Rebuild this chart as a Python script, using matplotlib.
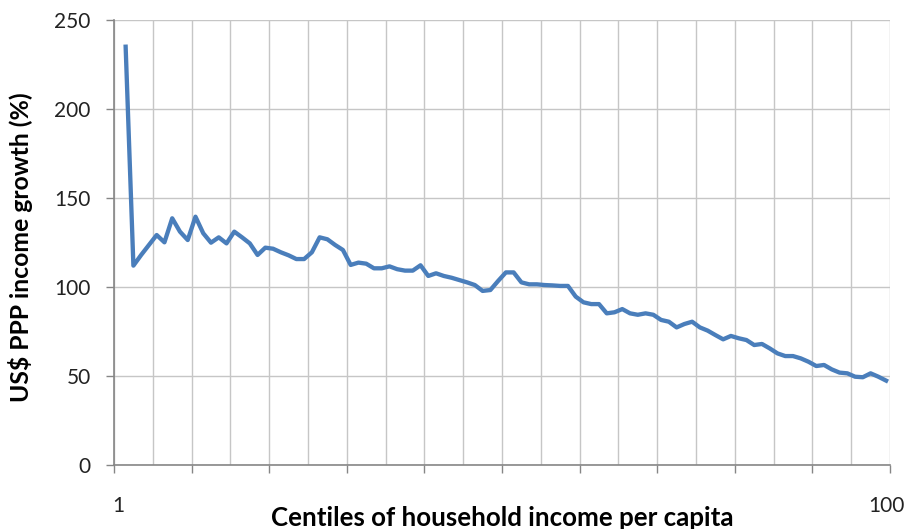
import numpy as np
import matplotlib
matplotlib.use('Agg')
import matplotlib.pyplot as plt
import matplotlib.transforms as mtransforms

# centiles 2..100 (centile 1 is blank in the source chart)
centiles = list(range(2, 101))
growth = [235, 112, 118, 123.6, 129.2, 125.1, 138.6, 131.1, 126.4, 139.5,
          130.2, 124.9, 127.9, 124.5, 131.1, 127.9, 124.5, 118, 122.1, 121.5,
          119.5, 117.8, 115.7, 115.7, 119.5, 127.9, 126.8, 123.6, 120.8, 112.4,
          113.7, 113.1, 110.5, 110.5, 111.6, 110, 109.2, 109.2, 112.2, 106.2,
          107.7, 106.2, 105.2, 103.9, 102.6, 101.1, 97.8, 98.3, 103.4, 108.2,
          108.2, 102.6, 101.5, 101.5, 101.1, 100.9, 100.6, 100.6, 94.6, 91.4,
          90.4, 90.4, 85.2, 85.8, 87.6, 85.2, 84.4, 85.2, 84.4, 81.5,
          80.5, 77.3, 79.2, 80.5, 77.3, 75.5, 73.0, 70.6, 72.5, 71.2,
          70.2, 67.4, 68.0, 65.5, 62.7, 61.2, 61.2, 59.9, 58.0, 55.6,
          56.2, 53.7, 51.9, 51.5, 49.6, 49.3, 51.5, 49.6, 47.4]
x_labels = ['1', '100']
y_ticks = [0, 50, 100, 150, 200, 250]

plt.rcParams['font.family'] = ['Lato', 'DejaVu Sans']
line_blue = '#4a7ebb'
grid_grey = '#c6c6c6'
axis_grey = '#868686'
txt = '#222222'

fig = plt.figure(figsize=(9.07, 5.29), dpi=100)
ax = fig.add_axes([114/907, 64/529, 776/907, 445/529])

ax.plot(centiles, growth, color=line_blue, lw=3.1, solid_joinstyle='round', zorder=3)

ax.set_xlim(0.5, 100.5)
ax.set_ylim(0, 250)

# tick marks every 10 categories, gridlines every 5
ax.set_xticks(np.arange(0.5, 101, 10))
ax.set_xticks(np.arange(0.5, 101, 5), minor=True)
ax.set_xticklabels([])
ax.tick_params(axis='x', which='major', length=5.8, width=1, color=axis_grey, direction='out')
ax.tick_params(axis='x', which='minor', length=0)
ax.set_yticks(y_ticks)
ax.tick_params(axis='y', length=5.8, width=1, color=axis_grey, direction='out', labelsize=15, pad=11, labelcolor=txt)
ax.grid(True, which='both', color=grid_grey, lw=1)
ax.set_axisbelow(True)

for s in ['top', 'right']:
    ax.spines[s].set_visible(False)
for s in ['left', 'bottom']:
    ax.spines[s].set_color(axis_grey)
    ax.spines[s].set_linewidth(1.2)

# only first and last category labelled
trans = mtransforms.blended_transform_factory(ax.transData, ax.transAxes)
for xv, lab in zip([1, 100], x_labels):
    ax.text(xv, -0.1056, lab, transform=trans, ha='center', va='baseline', fontsize=15, color=txt)

ax.set_xlabel('Centiles of household income per capita', fontsize=18.6, fontweight='bold', color='black')
ax.xaxis.label.set_va('baseline')
ax.xaxis.set_label_coords(0.5, -0.137)
ax.set_ylabel('US$ PPP income growth (%)', fontsize=17.8, fontweight='bold', color='black')
ax.yaxis.set_label_coords(-0.104, 0.49)

fig.savefig('out.png', dpi=100)
